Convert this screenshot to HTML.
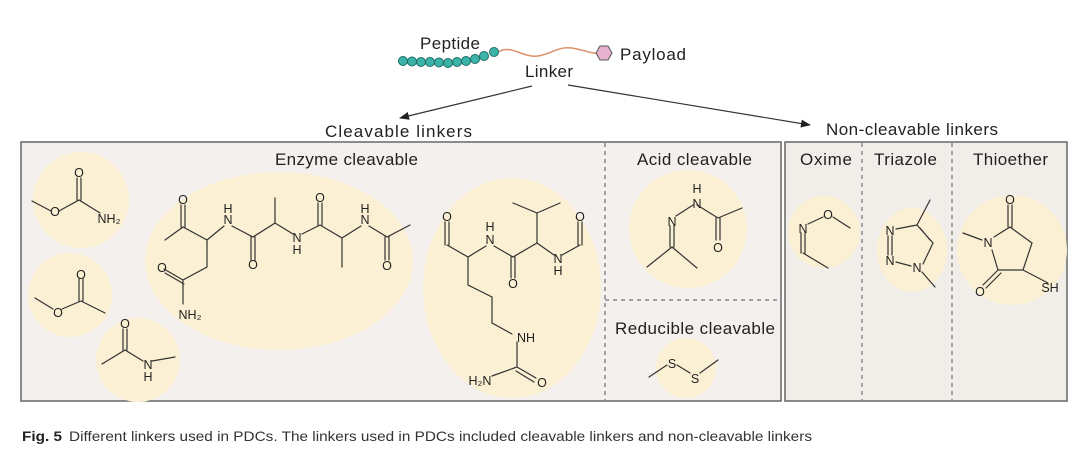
<!DOCTYPE html>
<html><head><meta charset="utf-8"><style>
html,body{margin:0;padding:0;background:#fff;}
svg{display:block;font-family:"Liberation Sans",sans-serif;}
</style></head><body>
<svg width="1080" height="449" viewBox="0 0 1080 449" xmlns="http://www.w3.org/2000/svg">
<defs><marker id="ah" markerWidth="10" markerHeight="8" refX="9" refY="4" orient="auto" markerUnits="userSpaceOnUse"><path d="M0,0 L10,4 L0,8 Z" fill="#222"/></marker></defs>
<!-- top -->
<path d="M498,52 C512,44 522,58 538,56 C552,54 558,46 572,48 C585,50 592,54 596,53" fill="none" stroke="#d9916a" stroke-width="1.5"/>
<g fill="#3bb3a6" stroke="#1e6f68" stroke-width="1">
<circle cx="403" cy="61" r="4.5"/><circle cx="412" cy="61.5" r="4.5"/><circle cx="421" cy="62" r="4.5"/><circle cx="430" cy="62" r="4.5"/><circle cx="439" cy="62.5" r="4.5"/><circle cx="448" cy="63" r="4.5"/><circle cx="457" cy="62" r="4.5"/><circle cx="466" cy="61" r="4.5"/><circle cx="475" cy="59" r="4.5"/><circle cx="484" cy="56" r="4.5"/><circle cx="494" cy="52" r="4.5"/>
</g>
<polygon points="596,53 600,46 608,46 612,53 608,60 600,60" fill="#e6b3cf" stroke="#555" stroke-width="1"/>
<g font-size="17" fill="#222" lengthAdjust="spacingAndGlyphs">
<text x="420" y="49" textLength="60">Peptide</text>
<text x="620" y="60" textLength="66">Payload</text>
<text x="525" y="77" textLength="48">Linker</text>
<text x="325" y="137" textLength="147">Cleavable linkers</text>
<text x="826" y="135" textLength="172">Non-cleavable linkers</text>
</g>
<line x1="532" y1="86" x2="400" y2="118" stroke="#333" stroke-width="1.2" marker-end="url(#ah)"/>
<line x1="568" y1="85" x2="810" y2="125" stroke="#333" stroke-width="1.2" marker-end="url(#ah)"/>
<!-- boxes -->
<rect x="21" y="142" width="760" height="259" fill="#f4f0ed" stroke="#666" stroke-width="1.5"/>
<rect x="785" y="142" width="282" height="259" fill="#f1eee9" stroke="#666" stroke-width="1.5"/>
<g stroke="#555" stroke-width="1" stroke-dasharray="4,4">
<line x1="605" y1="143" x2="605" y2="400"/>
<line x1="605" y1="300" x2="780" y2="300"/>
<line x1="862" y1="143" x2="862" y2="400"/>
<line x1="952" y1="143" x2="952" y2="400"/>
</g>
<!-- blobs -->
<g fill="#fbf0d3">
<circle cx="81" cy="200" r="48"/><circle cx="70" cy="295" r="42"/><circle cx="138" cy="360" r="42"/>
<ellipse cx="279" cy="261" rx="134" ry="89"/><ellipse cx="512" cy="288" rx="89" ry="110"/>
<circle cx="688" cy="229" r="59"/><circle cx="686" cy="368" r="30"/>
<circle cx="824" cy="232" r="36"/><ellipse cx="912" cy="250" rx="35" ry="42"/><circle cx="1012" cy="250" r="55"/>
</g>
<g font-size="17" fill="#222" lengthAdjust="spacingAndGlyphs">
<text x="275" y="165" textLength="143">Enzyme cleavable</text>
<text x="637" y="165" textLength="115">Acid cleavable</text>
<text x="615" y="334" textLength="160">Reducible cleavable</text>
<text x="800" y="165" textLength="52">Oxime</text>
<text x="874" y="165" textLength="63">Triazole</text>
<text x="973" y="165" textLength="75">Thioether</text>
</g>
<!-- structures -->
<g stroke="#333" stroke-width="1.2" fill="none" stroke-linecap="round">
<path d="M32,201 L51,211 M59,211 L79,200 L100,213 M77,200 L77,178 M81,200 L81,178"/>
<path d="M35,298 L53,309 M62,309 L81,301 L105,313 M79,301 L79,279 M83,301 L83,279"/>
<path d="M102,364 L125,350 L143,361 M152,361 L175,357 M123,350 L123,329 M127,350 L127,329"/>
<path d="M165,240 L183,227 L207,240 L207,267 L183,280 L183,304 M181,227 L181,205 M185,227 L185,205 M183,280 L164,269 M184,284 L165,273 M207,240 L224,226 M232,226 L253,237 L275,223 L275,198 M251,237 L251,260 M255,237 L255,260 M275,223 L293,234 M302,234 L320,225 L342,238 L342,267 M318,225 L318,203 M322,225 L322,203 M342,238 L361,226 M369,226 L387,237 L410,225 M385,237 L385,260 M389,237 L389,260"/>
<path d="M447,245 L468,257 L486,246 M494,246 L513,257 L537,243 L537,213 L513,203 M537,213 L560,203 M537,243 L554,255 M562,255 L580,245 M578,245 L578,222 M582,245 L582,222 M445,245 L445,222 M449,245 L449,222 M511,257 L511,278 M515,257 L515,278 M468,257 L468,285 L492,297 L492,323 L512,334 M517,342 L517,367 L492,376 M517,367 L536,378 M516,371 L534,382"/>
<path d="M697,205 L718,218 L742,208 M716,218 L716,240 M720,218 L720,240 M693,205 L676,216 M670,226 L670,247 M674,226 L674,247 M672,247 L647,267 M672,247 L697,268"/>
<path d="M649,377 L667,365 M677,365 L690,373 M700,373 L718,360"/>
<path d="M808,224 L823,217 M833,217 L850,228 M801,233 L801,253 M805,233 L805,253 M803,253 L828,268"/>
<path d="M930,200 L917,225 L933,243 M920,228 L930,240 M917,225 L896,229 M888,236 L888,255 M892,236 L892,255 M896,262 L911,266 M923,264 L933,243 M922,272 L935,287"/>
<path d="M963,233 L982,240 M994,237 L1010,227 L1032,243 L1023,270 L1048,283 M1023,270 L998,270 L992,250 M1008,227 L1008,205 M1012,227 L1012,205 M998,270 L983,285 M1001,273 L986,288"/>
</g>
<g font-size="12.5" fill="#222" text-anchor="middle">
<text x="55" y="216">O</text><text x="109" y="223">NH₂</text><text x="79" y="177">O</text>
<text x="58" y="317">O</text><text x="81" y="279">O</text>
<text x="125" y="328">O</text><text x="148" y="369">N</text><text x="148" y="381">H</text>
<text x="183" y="204">O</text><text x="162" y="272">O</text><text x="190" y="319">NH₂</text>
<text x="228" y="224">N</text><text x="228" y="213">H</text><text x="253" y="269">O</text>
<text x="297" y="242">N</text><text x="297" y="254">H</text><text x="320" y="202">O</text>
<text x="365" y="224">N</text><text x="365" y="213">H</text><text x="387" y="270">O</text>
<text x="447" y="221">O</text><text x="490" y="244">N</text><text x="490" y="231">H</text><text x="513" y="288">O</text>
<text x="558" y="263">N</text><text x="558" y="275">H</text><text x="580" y="221">O</text>
<text x="526" y="342">NH</text><text x="480" y="385">H₂N</text><text x="542" y="387">O</text>
<text x="697" y="193">H</text><text x="697" y="208">N</text><text x="672" y="226">N</text><text x="718" y="252">O</text>
<text x="672" y="368">S</text><text x="695" y="383">S</text>
<text x="803" y="233">N</text><text x="828" y="219">O</text>
<text x="890" y="235">N</text><text x="890" y="265">N</text><text x="917" y="272">N</text>
<text x="988" y="247">N</text><text x="1010" y="204">O</text><text x="980" y="296">O</text><text x="1050" y="292">SH</text>
</g>
<!-- caption -->
<text x="22" y="441" font-size="14" fill="#222" font-weight="bold" textLength="40" lengthAdjust="spacingAndGlyphs">Fig. 5</text>
<text x="69" y="441" font-size="14" fill="#333" textLength="743" lengthAdjust="spacingAndGlyphs">Different linkers used in PDCs. The linkers used in PDCs included cleavable linkers and non-cleavable linkers</text>
</svg>
</body></html>
